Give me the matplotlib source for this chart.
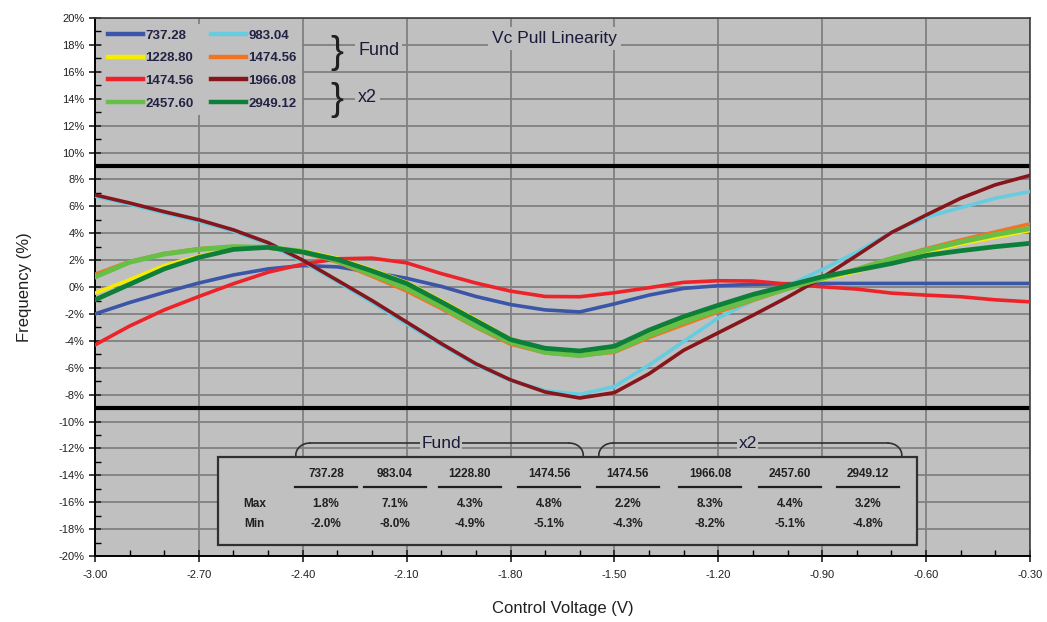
import numpy as np
import matplotlib.pyplot as plt
from matplotlib.ticker import MultipleLocator, FuncFormatter
from matplotlib.lines import Line2D

plt.rcParams['font.family'] = ['Liberation Sans', 'DejaVu Sans']

# control voltage (V), one reading every 0.1 V
volts = [-3.0, -2.9, -2.8, -2.7, -2.6, -2.5, -2.4, -2.3, -2.2, -2.1,
         -2.0, -1.9, -1.8, -1.7, -1.6, -1.5, -1.4, -1.3, -1.2, -1.1,
         -1.0, -0.9, -0.8, -0.7, -0.6, -0.5, -0.4, -0.3]

# frequency deviation (%) per curve
f_737 = [-2.0, -1.15, -0.4, 0.3, 0.9, 1.35, 1.6, 1.5, 1.1, 0.65,
         0.05, -0.7, -1.3, -1.7, -1.85, -1.25, -0.6, -0.1, 0.1, 0.2,
         0.25, 0.27, 0.27, 0.27, 0.27, 0.27, 0.27, 0.27]
f_983 = [6.75, 6.15, 5.5, 4.9, 4.15, 3.2, 1.9, 0.4, -1.15, -2.75,
         -4.3, -5.8, -6.95, -7.7, -7.98, -7.4, -5.8, -4.05, -2.3, -1.0,
         0.1, 1.3, 2.6, 4.05, 5.2, 5.9, 6.6, 7.1]
f_1228 = [-0.45, 0.55, 1.6, 2.3, 2.85, 3.0, 2.7, 2.15, 1.3, 0.35,
          -1.0, -2.4, -3.85, -4.6, -4.9, -4.6, -3.4, -2.45, -1.6, -0.8,
          0.0, 0.55, 1.15, 1.85, 2.6, 3.2, 3.7, 4.2]
f_1474 = [0.95, 1.9, 2.5, 2.85, 3.0, 2.9, 2.55, 1.85, 0.8, -0.3,
          -1.6, -3.0, -4.25, -4.9, -5.1, -4.85, -3.75, -2.8, -1.85, -1.0,
          -0.15, 0.65, 1.35, 2.15, 2.85, 3.5, 4.1, 4.7]
f_1474x2 = [-4.3, -2.9, -1.7, -0.7, 0.25, 1.1, 1.7, 2.1, 2.15, 1.8,
            1.0, 0.3, -0.3, -0.7, -0.72, -0.42, -0.05, 0.35, 0.47, 0.45,
            0.22, 0.02, -0.15, -0.45, -0.6, -0.72, -0.95, -1.1]
f_1966 = [6.85, 6.25, 5.6, 5.0, 4.25, 3.3, 2.0, 0.5, -1.0, -2.6,
          -4.2, -5.7, -6.9, -7.8, -8.25, -7.85, -6.45, -4.7, -3.4, -2.1,
          -0.75, 0.7, 2.35, 4.05, 5.35, 6.6, 7.6, 8.3]
f_2457 = [0.75, 1.85, 2.45, 2.8, 3.0, 2.95, 2.65, 1.95, 0.95, -0.1,
          -1.45, -2.9, -4.1, -4.85, -5.1, -4.75, -3.6, -2.6, -1.7, -0.9,
          -0.1, 0.65, 1.3, 2.1, 2.75, 3.35, 3.9, 4.35]
f_2949 = [-0.95, 0.2, 1.35, 2.2, 2.8, 2.95, 2.6, 2.05, 1.2, 0.27,
          -1.1, -2.5, -3.9, -4.55, -4.75, -4.4, -3.2, -2.2, -1.35, -0.55,
          0.1, 0.77, 1.25, 1.75, 2.35, 2.7, 3.0, 3.25]

# summary table
col_labels = ['737.28', '983.04', '1228.80', '1474.56',
              '1474.56', '1966.08', '2457.60', '2949.12']
max_vals = ['1.8%', '7.1%', '4.3%', '4.8%', '2.2%', '8.3%', '4.4%', '3.2%']
min_vals = ['-2.0%', '-8.0%', '-4.9%', '-5.1%', '-4.3%', '-8.2%', '-5.1%', '-4.8%']

c_blue = '#3b55a8'
c_cyan = '#66cde0'
c_yellow = '#f5ec00'
c_orange = '#f07422'
c_red = '#ee2229'
c_dred = '#86161c'
c_lgreen = '#66c047'
c_dgreen = '#0d7f3a'

fig = plt.figure(figsize=(10.47, 6.22), dpi=100)
ax = fig.add_axes([0.0907, 0.106, 0.893, 0.865])
ax.set_facecolor('#c0c0c0')

lines = {}
lines['737.28'] = ax.plot(volts, f_737, color=c_blue, lw=2.6, zorder=3)[0]
lines['983.04'] = ax.plot(volts, f_983, color=c_cyan, lw=2.6, zorder=3)[0]
lines['1228.80'] = ax.plot(volts, f_1228, color=c_yellow, lw=2.6, zorder=3)[0]
lines['1474.56'] = ax.plot(volts, f_1474, color=c_orange, lw=2.6, zorder=3)[0]
lines['1474.56x2'] = ax.plot(volts, f_1474x2, color=c_red, lw=2.6, zorder=3)[0]
lines['1966.08'] = ax.plot(volts, f_1966, color=c_dred, lw=2.6, zorder=3)[0]
lines['2457.60'] = ax.plot(volts, f_2457, color=c_lgreen, lw=3.6, zorder=3)[0]
lines['2949.12'] = ax.plot(volts, f_2949, color=c_dgreen, lw=3.4, zorder=3)[0]

ax.set_xlim(-3.0, -0.3)
ax.set_ylim(-20, 20)
ax.xaxis.set_major_locator(MultipleLocator(0.3))
ax.xaxis.set_minor_locator(MultipleLocator(0.1))
ax.yaxis.set_major_locator(MultipleLocator(2))
ax.yaxis.set_minor_locator(MultipleLocator(1))
ax.xaxis.set_major_formatter(FuncFormatter(lambda v, p: '{:.2f}'.format(v)))
ax.yaxis.set_major_formatter(FuncFormatter(lambda v, p: '{:.0f}%'.format(v)))
ax.tick_params(which='major', direction='inout', length=8, width=1.2,
               labelsize=8, colors='#202020')
ax.tick_params(which='minor', direction='in', length=4, width=1)
ax.tick_params(axis='x', pad=6)
ax.grid(True, which='major', color='#808080', lw=1.3, zorder=1)
ax.set_axisbelow(True)
for s in ['left', 'bottom']:
    ax.spines[s].set_color('black')
    ax.spines[s].set_linewidth(1.4)
for s in ['top', 'right']:
    ax.spines[s].set_color('#404040')
    ax.spines[s].set_linewidth(1.2)

ax.axhline(9, color='black', lw=3, zorder=2)
ax.axhline(-9, color='black', lw=3, zorder=2)

ax.set_xlabel('Control Voltage (V)', fontsize=12, color='#202020', labelpad=15)
ax.set_ylabel('Frequency (%)', fontsize=12, color='#202020', labelpad=19)

ax.text(-1.672, 18.5, 'Vc Pull Linearity', fontsize=12.5, ha='center', va='center',
        color='#1a1a3a', zorder=4,
        bbox=dict(facecolor='#c0c0c0', edgecolor='none', pad=3))

# legend, row-wise order as in the original
order = ['737.28', '1228.80', '1474.56x2', '2457.60',
         '983.04', '1474.56', '1966.08', '2949.12']
handles = [Line2D([], [], color=lines[k].get_color(), lw=3.2) for k in order]
labels = [k.replace('x2', '') for k in order]
leg = ax.legend(handles, labels, ncol=2, loc='upper left',
                bbox_to_anchor=(0.005, 0.993), frameon=True, fontsize=9.5,
                handlelength=2.7, handletextpad=0.15, columnspacing=1.3,
                labelspacing=0.78, borderpad=0.4, borderaxespad=0.2)
leg.get_frame().set_facecolor('#c0c0c0')
leg.get_frame().set_edgecolor('none')
leg.get_frame().set_alpha(1)
for t in leg.get_texts():
    t.set_fontweight('bold')
    t.set_color('#222244')

ax.text(-2.3, 17.4, '}', fontsize=28, ha='center', va='center', color='#202020', zorder=6)
ax.text(-2.3, 13.9, '}', fontsize=28, ha='center', va='center', color='#202020', zorder=6)
ax.text(-2.24, 17.6, 'Fund', fontsize=13, ha='left', va='center', color='#1a1a3a', zorder=6,
        bbox=dict(facecolor='#c0c0c0', edgecolor='none', pad=2))
ax.text(-2.24, 14.1, 'x2', fontsize=13, ha='left', va='center', color='#1a1a3a', zorder=6,
        bbox=dict(facecolor='#c0c0c0', edgecolor='none', pad=2))

# summary table
box = plt.Rectangle((-2.645, -19.2), 2.02, 6.55, facecolor='#c0c0c0',
                    edgecolor='#303030', lw=1.6, zorder=5)
ax.add_patch(box)
col_x = [-2.333, -2.134, -1.917, -1.689, -1.461, -1.224, -0.993, -0.768]
for cx, lab, mx, mn in zip(col_x, col_labels, max_vals, min_vals):
    ax.text(cx, -13.9, lab, fontsize=8.5, fontweight='bold', ha='center', va='center',
            color='#202020', zorder=6)
    ax.plot([cx - 0.09, cx + 0.09], [-14.85, -14.85], color='#202020', lw=1.6, zorder=6)
    ax.text(cx, -16.15, mx, fontsize=8.5, fontweight='bold', ha='center', va='center',
            color='#202020', zorder=6)
    ax.text(cx, -17.65, mn, fontsize=8.5, fontweight='bold', ha='center', va='center',
            color='#202020', zorder=6)
ax.text(-2.54, -16.15, 'Max', fontsize=8.5, fontweight='bold', ha='center', va='center',
        color='#202020', zorder=6)
ax.text(-2.54, -17.65, 'Min', fontsize=8.5, fontweight='bold', ha='center', va='center',
        color='#202020', zorder=6)


def brace(x0, x1, label, lx):
    y = -11.6
    r = 0.04
    t = np.linspace(0, np.pi / 2, 20)
    ax.plot(x0 + r - r * np.cos(t), y - 0.9 + 0.9 * np.sin(t), color='#303030', lw=1.2, zorder=4)
    ax.plot(x1 - r + r * np.cos(t), y - 0.9 + 0.9 * np.sin(t), color='#303030', lw=1.2, zorder=4)
    ax.plot([x0 + r, x1 - r], [y, y], color='#303030', lw=1.2, zorder=4)
    ax.text(lx, y, label, fontsize=12.5, ha='center', va='center', color='#1a1a3a', zorder=6,
            bbox=dict(facecolor='#c0c0c0', edgecolor='none', pad=1))


brace(-2.42, -1.59, 'Fund', -2.0)
brace(-1.545, -0.67, 'x2', -1.115)

fig.savefig('out.png', dpi=100)
